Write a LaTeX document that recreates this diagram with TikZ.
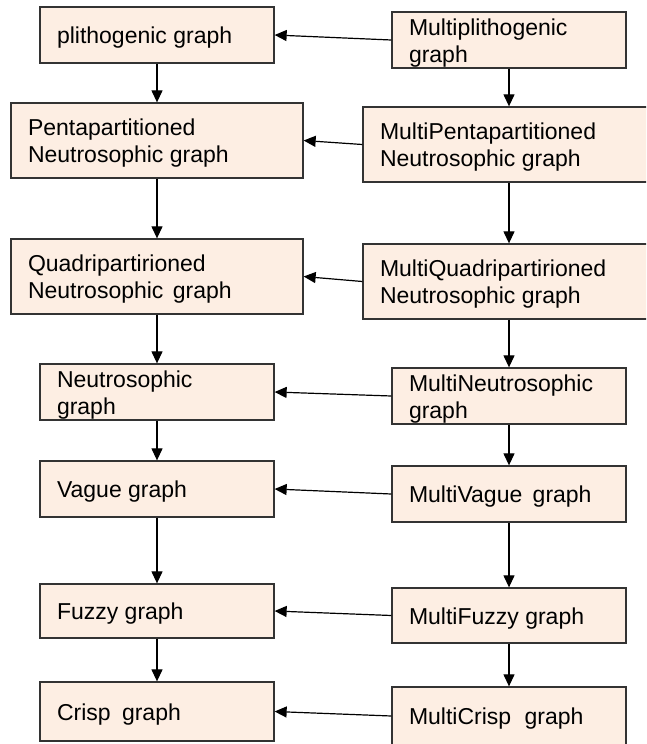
\documentclass[tikz,border=0pt]{standalone}
\usepackage{fontspec}
\setmainfont{Liberation Sans}
\usetikzlibrary{arrows.meta}
\definecolor{boxfill}{HTML}{FDEEE3}
\definecolor{boxline}{HTML}{333333}
% left-aligned box text, set slightly below the box centre
\newcommand\gtext[2]{\raisebox{-3pt}[\height][\depth]{\parbox{#1}{\raggedright #2}}}
\newcommand\ntext[1]{\gtext{200pt}{#1}}
\newcommand\wtext[1]{\gtext{258pt}{#1}}
\tikzset{
  gbox/.style={draw=boxline, line width=1.3pt, fill=boxfill, inner xsep=17pt,
    inner ysep=0pt, font=\fontsize{23}{27}\selectfont,
    minimum height=#1},
  gbox/.default=56pt,
  arr/.style={draw=black, line width=1.2pt,
    -{Triangle[length=12pt,width=11pt]}},
}
\begin{document}
\begin{tikzpicture}[x=1pt, y=-1pt]
  \useasboundingbox (0,0) rectangle (646,744);
  \clip (0,0) rectangle (646,744);

  % left column
  \node[gbox]        (l1) at (157,35)    {\ntext{plithogenic graph}};
  \node[gbox=75pt]   (l2) at (157,140.5) {\wtext{Pentapartitioned\\Neutrosophic graph}};
  \node[gbox=75pt]   (l3) at (157,276.5) {\wtext{Quadripartirioned\\Neutrosophic\hspace{3pt} graph}};
  \node[gbox]        (l4) at (157,392)   {\ntext{Neutrosophic\\graph}};
  \node[gbox]        (l5) at (157,489)   {\ntext{Vague graph}};
  \node[gbox=54pt]   (l6) at (157,611)   {\ntext{Fuzzy graph}};
  \node[gbox=59pt]   (l7) at (157,711.5) {\ntext{Crisp\hspace{5pt} graph}};

  % right column
  \node[gbox]        (r1) at (509,40)    {\ntext{Multiplithogenic\\graph}};
  \node[gbox=75pt]   (r2) at (509,144.5) {\wtext{MultiPentapartitioned\\Neutrosophic graph}};
  \node[gbox=75pt]   (r3) at (509,281.5) {\wtext{MultiQuadripartirioned\\Neutrosophic graph}};
  \node[gbox]        (r4) at (509,396)   {\ntext{MultiNeutrosophic\\graph}};
  \node[gbox]        (r5) at (509,494)   {\ntext{MultiVague\hspace{4pt} graph}};
  \node[gbox=55pt]   (r6) at (509,615.5) {\ntext{MultiFuzzy graph}};
  \node[gbox=58pt]   (r7) at (509,716)   {\ntext{MultiCrisp\hspace{7pt} graph}};

  % vertical chains
  \foreach \a/\b in {l1/l2,l2/l3,l3/l4,l4/l5,l5/l6,l6/l7,
                     r1/r2,r2/r3,r3/r4,r4/r5,r5/r6,r6/r7}
    \draw[arr] (\a.south) -- (\b.north);

  % links from each multi graph to its base graph
  \foreach \i in {1,...,7}
    \draw[arr] (r\i.west) -- (l\i.east);
\end{tikzpicture}
\end{document}
